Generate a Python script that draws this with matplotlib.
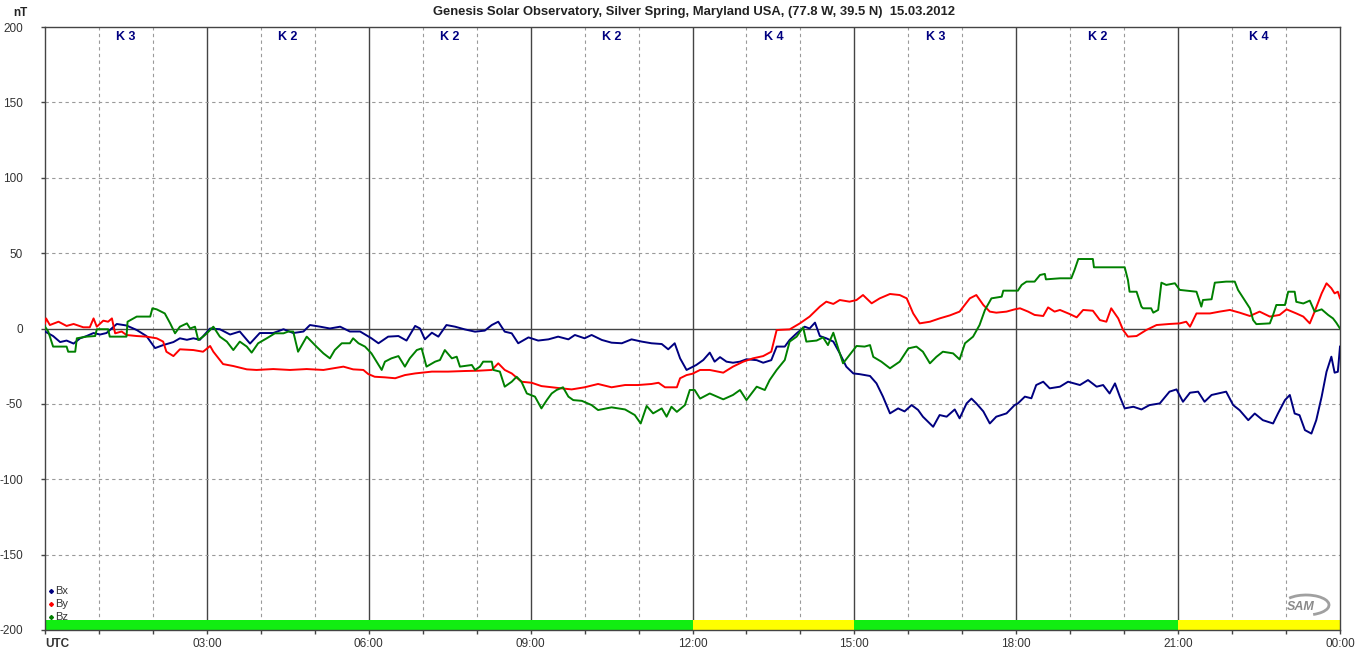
import matplotlib
matplotlib.use("Agg")
import matplotlib.pyplot as plt
from matplotlib.patches import Arc
import numpy as np

plt.rcParams['font.family'] = ['Liberation Sans', 'DejaVu Sans']

title = "Genesis Solar Observatory, Silver Spring, Maryland USA, (77.8 W, 39.5 N)  15.03.2012"
k_index = [3, 2, 2, 2, 4, 3, 2, 4]
k_labels = ["K 3", "K 2", "K 2", "K 2", "K 4", "K 3", "K 2", "K 4"]
x_ticklabels = ["UTC", "03:00", "06:00", "09:00", "12:00", "15:00", "18:00", "21:00", "00:00"]
y_ticks = [-200, -150, -100, -50, 0, 50, 100, 150, 200]

bx_t = [0.0,0.15,0.28,0.4,0.53,0.65,0.77,0.9,1.02,1.14,1.33,1.51,1.7,1.88,2.04,2.19,2.38,2.5,2.63,2.75,2.87,3.06,3.24,3.43,3.61,3.8,3.98,4.23,4.42,4.6,4.79,4.91,5.1,5.28,5.47,5.65,5.84,
        6.05,6.18,6.36,6.55,6.7,6.86,6.95,7.04,7.17,7.29,7.44,7.6,7.78,7.97,8.15,8.28,8.4,8.52,8.65,8.77,8.96,9.14,9.33,9.51,9.7,9.82,10.0,10.13,10.32,10.5,10.69,10.87,11.06,11.24,11.43,11.55,11.67,11.77,11.89,
        12.07,12.2,12.32,12.41,12.51,12.63,12.75,12.88,13.0,13.19,13.31,13.46,13.56,13.71,13.8,13.93,14.08,14.17,14.27,14.36,14.48,14.61,14.73,14.85,14.98,15.1,15.29,15.41,15.53,15.66,15.81,15.93,16.06,16.18,16.27,16.46,16.58,16.71,16.86,16.95,17.08,17.17,17.26,17.39,17.51,17.63,17.82,
        17.97,18.03,18.16,18.28,18.37,18.5,18.62,18.81,18.96,19.18,19.33,19.49,19.61,19.73,19.83,19.92,20.01,20.17,20.32,20.47,20.66,20.84,20.97,21.09,21.22,21.37,21.49,21.62,21.74,21.89,22.02,22.14,22.3,22.42,22.57,22.76,22.85,22.98,23.07,23.16,23.25,23.35,23.47,23.56,23.66,23.75,23.84,23.9,23.96,24.0]
bx_v = [-2,-5,-9,-8,-10,-6.5,-5,-3,-4,-3,3,2,-1,-5,-13,-11,-9,-6.5,-7.5,-6.5,-7.5,0,-0.5,-4,-2,-10,-3,-3,-0.5,-3,-2,2.3,1.2,0,1.2,-2,-2,
        -6.5,-9.8,-5.4,-5,-8,1.7,0,-7.2,-2.8,-5.4,2.3,1.2,-0.6,-2.1,-1.4,2.3,4.5,-2.1,-3.2,-9.8,-5.9,-8,-7.2,-5.4,-7.2,-4.3,-6.5,-4.3,-7.6,-9.4,-9.8,-7.2,-8.7,-9.8,-10.3,-13.8,-9.8,-19.8,-27.5,
        -24.2,-20.9,-16,-22,-19,-22,-22.7,-22,-20.4,-21,-22.7,-21,-12,-12,-7.6,-3.2,1.2,0,3.9,-5,-6.5,-8.7,-16.5,-25.3,-29.8,-30.3,-31.5,-36.4,-45.2,-56.3,-53,-55,-50.8,-54,-58.5,-65.2,-57.4,-58.5,-53.7,-59.6,-49.7,-46.5,-49.7,-55,-63,-58.5,-56.3,
        -50.8,-49.7,-45.2,-46.3,-37.5,-35.3,-39.7,-38.6,-35.3,-37.5,-34.2,-38.6,-37.5,-43.1,-36.4,-45.2,-53,-51.9,-53.7,-50.8,-49.7,-41.9,-40.4,-48.6,-42.6,-41.9,-48.6,-44.1,-43.1,-41.9,-50.8,-54.2,-60.8,-56.4,-60.8,-63,-56.4,-47.5,-44.1,-56.4,-57.5,-67.4,-69.7,-60.8,-45.2,-28.7,-18.7,-29.3,-28.7,-12]

by_t = [0.0,0.02,0.09,0.25,0.4,0.53,0.71,0.83,0.9,0.96,1.08,1.17,1.24,1.3,1.42,1.51,1.7,1.88,2.07,2.19,2.25,2.38,2.5,2.75,2.93,3.06,3.12,3.3,3.49,3.74,3.92,4.23,4.54,4.85,5.16,5.34,5.53,5.71,5.9,
        5.99,6.11,6.3,6.49,6.67,6.86,7.17,7.47,7.78,8.03,8.28,8.4,8.52,8.65,8.83,9.02,9.2,9.39,9.57,9.76,10.0,10.25,10.5,10.75,10.99,11.24,11.37,11.49,11.71,11.77,11.89,
        12.0,12.14,12.32,12.57,12.75,12.94,13.12,13.31,13.46,13.56,13.8,13.99,14.17,14.36,14.48,14.61,14.73,14.91,15.04,15.16,15.32,15.47,15.66,15.84,15.97,16.09,16.21,16.4,16.58,16.77,16.95,17.14,17.26,17.39,17.51,17.63,17.82,
        17.97,18.07,18.22,18.34,18.5,18.59,18.71,18.81,18.99,19.12,19.24,19.42,19.55,19.67,19.76,19.89,19.98,20.07,20.23,20.41,20.6,20.84,21.03,21.15,21.22,21.34,21.59,21.77,21.96,22.14,22.33,22.51,22.7,22.88,23.01,23.19,23.32,23.44,23.53,23.66,23.75,23.84,23.9,23.96,24.0]
by_v = [3.4,6.7,2.3,4.5,1.7,3,0.8,0.8,6.7,1.2,5.2,4.5,6.7,-3.2,-2,-4.3,-5,-5.4,-6.5,-8.7,-15.4,-18.3,-13.8,-14.3,-15.4,-11.6,-15.4,-23.6,-24.9,-27.1,-27.5,-26.9,-27.5,-26.9,-27.5,-26.4,-25.3,-27.1,-27.5,
        -30.2,-32,-32.4,-33,-30.9,-29.8,-28.6,-28.6,-28.2,-28,-27.5,-23.1,-27.5,-29.8,-35.3,-36,-38.2,-39,-39.7,-40.4,-39,-36.8,-39,-37.5,-37.5,-36.8,-36,-39,-39,-33,-30.9,
        -30,-27.5,-27.5,-29.3,-25.3,-22,-19.8,-18.3,-15.4,-1,-0.6,3.4,7.9,14.5,17.8,16.3,18.9,17.8,18.9,22.2,16.7,20,22.9,22.2,20,10,3.4,4.5,6.7,8.7,11.2,20,22.2,15.6,11.2,10.5,11.2,
        12.7,13.4,11.2,9,8.3,14,11.2,12.3,9.6,7.4,12.3,11.8,5.6,4.5,13.4,6.7,-1,-5.4,-5,-1,2.3,3,3.4,4.5,1.2,10,10,11.2,12.3,10.5,8.3,11.2,7.9,9,12.7,10,7.9,3.4,11.2,23.3,30,26.7,23.3,24.4,20]

bz_t = [0.0,0.06,0.15,0.4,0.43,0.56,0.59,0.77,0.93,0.96,1.17,1.2,1.51,1.53,1.7,1.95,1.99,2.07,2.22,2.32,2.41,2.5,2.63,2.69,2.78,2.84,2.93,3.0,3.12,3.24,3.37,3.49,3.61,3.74,3.83,3.95,4.11,4.26,4.42,4.51,4.6,4.69,4.85,4.91,5.03,5.16,5.28,5.37,5.5,5.65,5.71,5.81,5.93,
        6.05,6.24,6.3,6.42,6.55,6.67,6.76,6.89,6.98,7.07,7.23,7.32,7.41,7.54,7.63,7.69,7.91,7.97,8.06,8.12,8.28,8.31,8.43,8.52,8.65,8.74,8.83,8.93,9.08,9.2,9.3,9.39,9.48,9.6,9.7,9.79,9.95,10.13,10.25,10.5,10.75,10.93,11.04,11.15,11.27,11.43,11.52,11.61,11.71,11.86,11.95,
        12.04,12.14,12.32,12.57,12.75,12.88,13.0,13.19,13.34,13.43,13.56,13.71,13.8,13.93,14.05,14.11,14.3,14.42,14.51,14.61,14.7,14.79,14.91,15.04,15.19,15.29,15.35,15.5,15.66,15.84,16.0,16.15,16.27,16.4,16.52,16.64,16.83,16.95,17.05,17.2,17.32,17.42,17.54,17.73,17.76,
        18.03,18.1,18.19,18.34,18.44,18.53,18.55,18.81,19.02,19.08,19.15,19.42,19.44,20.01,20.07,20.1,20.23,20.32,20.35,20.5,20.54,20.63,20.69,20.78,20.94,21.03,21.34,21.43,21.46,21.62,21.68,21.89,22.05,22.11,22.23,22.33,22.39,22.45,22.7,22.76,22.82,22.98,23.04,23.16,23.19,23.32,23.44,23.53,23.66,23.78,23.87,23.93,24.0]
bz_v = [1.2,-2,-12,-12,-15.4,-15.4,-6.5,-5.4,-5,-0.5,-0.5,-5.4,-5.4,4.5,7.9,7.9,13.4,12.7,10,3.4,-3.2,1.2,3.4,0,1.2,-7.6,-5.4,-3.2,1.2,-5.4,-8.7,-14.3,-8.7,-12,-16,-9.8,-6.5,-3.2,-3.2,-2,-2,-15.4,-5.4,-7.6,-12,-16.5,-19.8,-14.3,-9.8,-9.8,-6.5,-9.8,-12,
        -16.5,-27.5,-22,-19.8,-18.3,-25.3,-19.8,-14.3,-13.2,-25.3,-22,-20.9,-14.3,-19.8,-18.7,-25.3,-24.2,-27.5,-25.3,-22,-22,-27.5,-28.6,-38.6,-35.3,-32,-35.3,-43.1,-45.2,-53,-47.5,-43.1,-40.8,-39,-45.2,-47.5,-48,-50.8,-54.1,-52.3,-53.7,-57.4,-63,-51.4,-56.3,-53,-58.5,-51.9,-55.3,-50.8,-40.8,
        -40.8,-46.5,-43.1,-47,-44.1,-40.8,-47.5,-38.6,-40.8,-34.2,-27.5,-20.9,-8.7,-5.4,0.8,-8.7,-8,-5.9,-11,-2.8,-13.2,-23.1,-17.6,-11.6,-12,-11,-18.8,-22,-26.4,-22,-13.2,-12,-15.4,-23.1,-18.8,-15.4,-16.5,-20.5,-9.8,-5.4,2.3,12.3,20,21.1,25.1,
        25.1,28.9,31.1,31.1,35.5,36.2,32.6,33.3,33.3,38.8,46.1,46.1,40.6,40.6,32.2,24.4,24.4,14.5,13.4,13.4,10.5,12.3,30.4,28.9,30,25.6,24.4,14.5,18.9,19.4,30.4,31.1,31.1,25.6,18.9,13.4,5.6,2.9,3.4,9,15.6,15.6,24.4,24.4,17.7,16.6,18.5,11.2,12.7,9,6.7,3.9,0]

W, H = 1360, 657
fig = plt.figure(figsize=(W / 100, H / 100), dpi=100)
ax = fig.add_axes([45 / W, 27 / H, (1340 - 45) / W, (630 - 27) / H])
ax.set_xlim(0, 24)
ax.set_ylim(-200, 200)

# grid
for h in range(1, 24):
    if h % 3 == 0:
        ax.axvline(h, color='#444444', lw=1.0, zorder=1)
    else:
        ax.axvline(h, color='#9a9a9a', lw=0.8, ls=(0, (3, 3)), zorder=1)
for y in y_ticks[1:-1]:
    if y == 0:
        ax.axhline(0, color='#444444', lw=1.0, zorder=1)
    else:
        ax.axhline(y, color='#9a9a9a', lw=0.8, ls=(0, (3, 3)), zorder=1)

# K-index colour bar
for i, k in enumerate(k_index):
    col = '#ffff00' if k >= 4 else '#11ee11'
    ax.axvspan(3 * i, 3 * i + 3, ymin=0, ymax=10 / 603, color=col, lw=0, zorder=2)
    ax.text(3 * i + 1.5, 0.983, k_labels[i], transform=ax.get_xaxis_transform(),
            ha='center', va='center', fontsize=9, fontweight='bold', color='#000080')

ax.plot(bx_t, bx_v, color='#000080', lw=1.4, zorder=3)
ax.plot(by_t, by_v, color='#ff0000', lw=1.4, zorder=3)
ax.plot(bz_t, bz_v, color='#008000', lw=1.4, zorder=4)

for s in ax.spines.values():
    s.set_color('#444444')
    s.set_linewidth(1.0)

ax.set_yticks(y_ticks)
ax.set_yticklabels([str(v) for v in y_ticks])
ax.set_xticks(range(0, 25))
labels = []
for h in range(25):
    labels.append(x_ticklabels[h // 3] if h % 3 == 0 else "")
ax.set_xticklabels(labels)
ax.tick_params(axis='both', direction='out', length=3, width=1, color='#444444',
               labelsize=8.5, labelcolor='#333333')
ax.tick_params(axis='y', pad=13)
ax.tick_params(axis='x', pad=3)
tl = ax.get_xticklabels()
tl[0].set_fontweight('bold')
tl[0].set_ha('left')

fig.text(694 / W, 1 - 12 / H, title, ha='center', va='center', fontsize=9.4, fontweight='bold', color='#222222')
fig.text(20 / W, 1 - 13 / H, "nT", ha='center', va='center', fontsize=8.5, fontweight='bold', color='#222222')

# legend
leg_names = ["Bx", "By", "Bz"]
leg_cols = ['#000080', '#ff0000', '#008000']
for i, (n, c) in enumerate(zip(leg_names, leg_cols)):
    yf = (630 - 591 - 13 * i) / 603
    ax.plot([0.0046], [yf], marker='D', ms=2.0, color=c, transform=ax.transAxes, zorder=5)
    ax.text(0.008, yf, n, transform=ax.transAxes, ha='left', va='center', fontsize=8, color='#333333')

# logo
fig.text(1301 / W, 1 - 607 / H, "SAM", ha='center', va='center', fontsize=9, fontstyle='italic',
         fontweight='bold', color='#8a8a8a')
arc = Arc((1306 / W, 1 - 605 / H), 46 / W, 20 / H, theta1=-70, theta2=140, color='#a0a0a0', lw=2,
          transform=fig.transFigure)
fig.add_artist(arc)

fig.savefig("out.png", dpi=100)
